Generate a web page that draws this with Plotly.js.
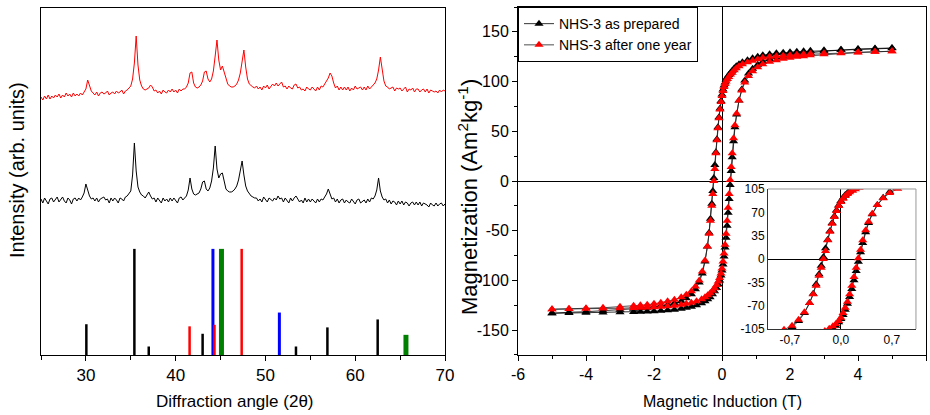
<!DOCTYPE html>
<html>
<head>
<meta charset="utf-8">
<script src="https://cdn.plot.ly/plotly-3.0.1.min.js"></script>
<style>html,body{margin:0;padding:0;background:#fff;}#chart{width:930px;height:415px;}</style>
</head>
<body>
<div id="chart"></div>
<script>
// ---------------- XRD patterns (2θ from 25 to 70, step 0.2) ----------------
const thetaStart = 25;
const thetaStep = 0.2;
const xrdAsPrepared = [
156,152,157,154,151,156,157,153,155,158,
153,156,158,154,152,157,155,151,156,157,
154,157,155,158,162,171,165,159,156,157,
154,157,153,156,157,158,155,156,152,157,
154,157,155,152,157,156,154,158,159,161,
164,180,212,184,168,163,160,159,157,160,
163,159,156,157,153,157,155,152,157,154,
156,153,157,154,157,155,152,157,158,155,
157,159,165,177,166,161,160,161,162,166,
173,174,166,164,167,174,187,209,186,177,
181,182,172,166,164,163,163,164,166,169,
175,183,194,180,169,164,161,159,158,157,
157,154,156,153,158,156,153,157,155,154,
157,155,159,156,157,153,157,154,152,157,
154,157,159,156,153,155,152,157,153,156,
153,156,154,152,156,153,156,155,158,161,
166,160,156,157,153,156,152,155,156,152,
155,153,152,156,154,151,155,156,152,154,
155,152,156,153,157,156,159,165,177,164,
158,155,156,152,155,151,154,153,150,154,
151,154,150,153,152,149,152,153,150,153,
150,153,149,152,151,150,148,152,150,149,
152,149,151,152,149,151
];
const xrdOneYear = [
258,255,259,256,260,256,259,257,260,258,
261,257,260,258,262,259,261,258,262,259,
261,259,262,260,263,266,275,270,264,262,
260,263,259,262,263,261,262,264,260,262,
263,261,264,262,263,265,261,264,265,267,
269,276,292,319,290,275,269,266,265,266,
267,270,268,264,265,262,264,261,265,263,
262,265,263,266,263,265,262,266,264,266,
266,268,272,282,283,272,268,267,268,270,
274,283,284,276,273,276,284,299,315,295,
285,289,283,275,271,269,268,268,269,271,
275,282,293,305,288,276,271,269,268,267,
269,266,268,265,269,267,270,266,268,271,
269,272,269,271,273,268,269,266,269,267,
266,270,271,267,268,265,266,264,268,266,
265,268,266,264,268,265,269,268,271,274,
277,282,279,272,267,269,265,268,265,268,
265,268,264,267,265,269,266,267,268,265,
268,265,269,266,268,270,272,276,285,298,
284,274,269,268,266,267,268,264,267,266,
267,264,266,268,263,266,265,267,263,266,
266,263,265,266,263,266,262,265,264,263,
264,262,265,263,265,264
];

// ---------------- Reference stick patterns (relative intensity, %) ----------------
const blackStickPos = [30.05, 35.4, 37.0, 43.0, 53.4, 56.9, 62.5];
const blackStickInt = [29, 100, 8, 20, 8, 26, 33.5];
const blueStickPos  = [44.15, 51.55];
const blueStickInt  = [100, 40];
const redStickPos   = [41.55, 44.32, 47.35];
const redStickInt   = [27, 28.5, 100];
const greenStickPos = [45.1, 65.65];
const greenStickInt = [100, 19];

// ---------------- Hysteresis loops ----------------
const descField = [5,4.5,4,3.5,3, 2.6,2.4,2.2,2,1.8, 1.6,1.4,1.2,1.05,0.9, 0.75,0.6,0.5,0.42,0.36,
  0.3,0.25,0.2,0.16,0.12, 0.09,0.06,0.03,0,-0.03, -0.06,-0.09,-0.12,-0.15,-0.18, -0.21,-0.24,-0.27,-0.3,-0.34,
  -0.38,-0.43,-0.5,-0.58,-0.67, -0.78,-0.9,-1.05,-1.2,-1.4, -1.6,-1.8,-2,-2.2,-2.4, -2.6,-3,-3.5,-4,-4.5, -5];
const ascField = [-5,-4.5,-4,-3.5,-3, -2.6,-2.4,-2.2,-2,-1.8, -1.6,-1.4,-1.2,-1.05,-0.9, -0.75,-0.6,-0.5,-0.42,-0.35,
  -0.28,-0.22,-0.16,-0.11,-0.07, -0.03,0,0.03,0.06,0.09, 0.12,0.15,0.18,0.21,0.24, 0.27,0.3,0.34,0.38,0.43,
  0.5,0.58,0.67,0.78,0.9, 1.05,1.2,1.4,1.6,1.8, 2,2.2,2.4,2.6,3, 3.5,4,4.5,5];

const descPrepared = [133.5,133,132.5,132,131.5, 131,130.5,130,129.5,129, 128.5,127.5,126.5,125,123.5, 121.5,119.5,117.5,115.5,113.5,
  111,109,106.5,104.5,102, 99,96,92,87,80.5, 73,64,54,42,29, 16,3,-10,-23,-38,
  -52,-66,-81,-93,-102, -109,-114,-118,-121,-123, -124.5,-125.5,-126.5,-127.5,-128, -128.5,-129.5,-130.5,-131.5,-132, -133];
const ascPrepared = [-133,-132.8,-132.5,-132.2,-132, -131.7,-131.5,-131.2,-131,-130.5, -130,-129.5,-128.5,-127.5,-126.5, -125,-123,-121,-119,-117,
  -114,-111,-107.5,-104,-100, -95,-90,-84,-76,-67, -57,-45,-32,-18,-4, 10,24,40,54,67,
  81,92,101,108,113, 117,120,122.5,124.5,125.5, 126.5,127.5,128.3,129,130.5, 132,132.8,133.3,133.8];

const descOneYear = [130.5,130,129.5,129,128.5, 128,127.5,127,126.5,126, 125.5,125,124,122.5,121, 119.5,117.5,115.5,113.5,111.5,
  109,107,104.5,102.5,100, 97.5,94.5,90.5,85.5,79.5, 72,63,53,41,28, 12,0,-13,-25,-40,
  -53,-66,-80,-91,-100, -106,-111,-114.5,-117,-119.5, -121,-122.5,-123.5,-124.5,-125, -125.5,-126.5,-127.5,-128,-128.5, -129];
const ascOneYear = [-129,-128.8,-128.5,-128.2,-128, -127.7,-127.5,-127.2,-127,-126.5, -126,-125.5,-124.5,-123.5,-122.5, -121,-119,-117,-115,-113,
  -110.5,-108,-104.5,-101,-97.5, -93,-88,-81,-73,-64, -53,-40,-27,-13,1, 14,28,43,56,68,
  81,91,99,105.5,110.5, 114.5,117.5,120,121.5,123, 124,125,125.5,126.5,127.5, 128.5,129.3,130,130.5];

const seriesNames = ['NHS-3 as prepared', 'NHS-3 after one year'];
const mainXTicks = [-6,-4,-2,0,2,4,6];
const mainXLabels = ['-6','-4','-2','0','2','4','6'];
const mainYTicks = [-150,-100,-50,0,50,100,150];
const mainYLabels = ['-150','-100','-50','0','50','100','150'];
const insetXTicks = [-0.7, 0, 0.7];
const insetXLabels = ['-0,7','0,0','0,7'];
const insetYTicks = [-105,-70,-35,0,35,70,105];
const insetYLabels = ['-105','-70','-35','0','35','70','105'];

// ---------------- build traces ----------------
function sticks(pos, inten) {
  const x = [], y = [];
  pos.forEach((p, i) => { x.push(p, p, null); y.push(0, inten[i], null); });
  return {x, y};
}
function stickTrace(pos, inten, color, width) {
  const s = sticks(pos, inten);
  return {x: s.x, y: s.y, xaxis: 'x', yaxis: 'y3', mode: 'lines', type: 'scatter',
    line: {color: color, width: width}, showlegend: false, hoverinfo: 'skip'};
}
const loopPreparedX = descField.concat(ascField);
const loopPreparedY = descPrepared.concat(ascPrepared);
const loopOneYearX = descField.concat(ascField);
const loopOneYearY = descOneYear.concat(ascOneYear);

const FONT = 'Liberation Sans, Arial, sans-serif';

const traces = [
  {x0: thetaStart, dx: thetaStep, y: xrdAsPrepared, type: 'scatter', mode: 'lines', xaxis: 'x', yaxis: 'y',
   line: {color: '#000000', width: 1}, showlegend: false},
  {x0: thetaStart, dx: thetaStep, y: xrdOneYear, type: 'scatter', mode: 'lines', xaxis: 'x', yaxis: 'y',
   line: {color: '#ff0000', width: 1}, showlegend: false},
  stickTrace(blackStickPos, blackStickInt, '#000000', 2.5),
  stickTrace(blueStickPos, blueStickInt, '#0000ff', 3),
  stickTrace(greenStickPos, greenStickInt, '#008000', 5),
  stickTrace(redStickPos, redStickInt, '#ff0000', 2.5),
  {x: loopPreparedX, y: loopPreparedY, type: 'scatter', mode: 'lines+markers', xaxis: 'x2', yaxis: 'y2',
   name: seriesNames[0], line: {color: '#000000', width: 0.8},
   marker: {symbol: 'triangle-up', size: 8, color: '#000000'}},
  {x: loopOneYearX, y: loopOneYearY, type: 'scatter', mode: 'lines+markers', xaxis: 'x2', yaxis: 'y2',
   name: seriesNames[1], line: {color: '#222222', width: 0.8},
   marker: {symbol: 'triangle-up', size: 8, color: '#ff0000'}},
  {x: loopPreparedX, y: loopPreparedY, type: 'scatter', mode: 'lines+markers', xaxis: 'x4', yaxis: 'y4',
   showlegend: false, line: {color: '#000000', width: 0.8},
   marker: {symbol: 'triangle-up', size: 8, color: '#000000'}},
  {x: loopOneYearX, y: loopOneYearY, type: 'scatter', mode: 'lines+markers', xaxis: 'x4', yaxis: 'y4',
   showlegend: false, line: {color: '#222222', width: 0.8},
   marker: {symbol: 'triangle-up', size: 8, color: '#ff0000'}}
];

const axisCommon = {showline: true, linecolor: '#000', linewidth: 1, showgrid: false, ticks: 'outside',
  tickcolor: '#000', tickwidth: 1};

const layout = {
  width: 930, height: 415,
  margin: {l: 0, r: 0, t: 0, b: 0},
  paper_bgcolor: '#ffffff', plot_bgcolor: '#ffffff',
  font: {family: FONT, color: '#000', size: 16},
  showlegend: true,
  legend: {x: 0.557, y: 0.983, xanchor: 'left', yanchor: 'top', bgcolor: '#ffffff',
    bordercolor: '#000', borderwidth: 1, font: {size: 14, family: FONT}, tracegroupgap: 0, itemwidth: 30},
  xaxis: Object.assign({}, axisCommon, {domain: [0.0441, 0.4785], anchor: 'y', range: [25, 70],
    tick0: 0, dtick: 10, ticklen: 5, mirror: true, zeroline: false, tickfont: {size: 17},
    minor: {dtick: 5, tick0: 0, ticks: 'outside', ticklen: 4, tickcolor: '#000', showgrid: false}}),
  yaxis: Object.assign({}, axisCommon, {domain: [0.1446, 0.9807], anchor: 'x', range: [0, 347],
    ticks: '', showticklabels: false, mirror: true, zeroline: false}),
  yaxis3: {overlaying: 'y', anchor: 'x', range: [0, 327], visible: false, showgrid: false, zeroline: false},
  xaxis2: Object.assign({}, axisCommon, {domain: [0.557, 0.9957], anchor: 'y2', range: [-6, 6],
    tickmode: 'array', tickvals: mainXTicks, ticktext: mainXLabels, ticklen: 5, mirror: true,
    zeroline: true, zerolinecolor: '#000', zerolinewidth: 1, tickfont: {size: 16},
    minor: {tickmode: 'linear', tick0: 0, dtick: 1, ticks: 'outside', ticklen: 3, tickcolor: '#000', showgrid: false}}),
  yaxis2: Object.assign({}, axisCommon, {domain: [0.1446, 0.9831], anchor: 'x2', range: [-175, 175],
    tickmode: 'array', tickvals: mainYTicks, ticktext: mainYLabels, ticklen: 5, mirror: true,
    zeroline: true, zerolinecolor: '#000', zerolinewidth: 1, tickfont: {size: 16},
    minor: {tickmode: 'linear', tick0: 0, dtick: 25, ticks: 'outside', ticklen: 3, tickcolor: '#000', showgrid: false}}),
  xaxis4: {domain: [0.8258, 0.9849], anchor: 'y4', range: [-1.0, 1.03], showline: true, linecolor: '#333',
    linewidth: 1, showgrid: false, ticks: '', tickmode: 'array', tickvals: insetXTicks, ticktext: insetXLabels,
    zeroline: true, zerolinecolor: '#000', zerolinewidth: 1, tickfont: {size: 12}},
  yaxis4: {domain: [0.2072, 0.5446], anchor: 'x4', range: [-105, 105], showline: true, linecolor: '#333',
    linewidth: 1, showgrid: false, ticks: '', tickmode: 'array', tickvals: insetYTicks, ticktext: insetYLabels,
    zeroline: true, zerolinecolor: '#000', zerolinewidth: 1, tickfont: {size: 12}},
  shapes: [
    {type: 'line', xref: 'x4 domain', yref: 'y4 domain', x0: 0, x1: 1, y0: 1, y1: 1, line: {color: '#999', width: 1}},
    {type: 'line', xref: 'x4 domain', yref: 'y4 domain', x0: 1, x1: 1, y0: 0, y1: 1, line: {color: '#999', width: 1}}
  ],
  annotations: [
    {text: 'Diffraction angle (2\u03b8)', xref: 'paper', yref: 'paper', x: 235 / 930, y: 1 - 401 / 415,
     xanchor: 'center', yanchor: 'middle', showarrow: false, font: {size: 17}},
    {text: 'Intensity (arb. units)', xref: 'paper', yref: 'paper', x: 17 / 930, y: 1 - 170 / 415,
     xanchor: 'center', yanchor: 'middle', textangle: -90, showarrow: false, font: {size: 20}},
    {text: 'Magnetic Induction (T)', xref: 'paper', yref: 'paper', x: 722 / 930, y: 1 - 401 / 415,
     xanchor: 'center', yanchor: 'middle', showarrow: false, font: {size: 16}},
    {text: 'Magnetization (Am<sup>2</sup>kg<sup>-1</sup>)', xref: 'paper', yref: 'paper', x: 468 / 930, y: 1 - 197 / 415,
     xanchor: 'center', yanchor: 'middle', textangle: -90, showarrow: false, font: {size: 22}}
  ]
};

Plotly.newPlot('chart', traces, layout, {displayModeBar: false, staticPlot: true});
</script>
</body>
</html>
